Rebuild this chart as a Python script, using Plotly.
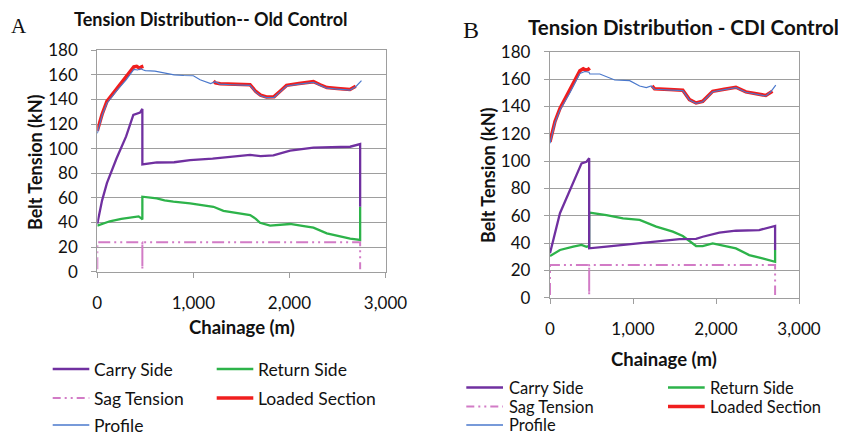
import plotly.graph_objects as go

# the page body adds an 8px margin, so the figure is 16px smaller and positions are offset
OFF = 8
W, H = 846 - 2 * OFF, 442 - 2 * OFF

# ---------------- Panel A data (Old Control) ----------------
carry_a_x = [0, 50, 100, 200, 300, 375, 445, 469, 469, 620, 800, 966, 1200, 1400, 1591, 1700, 1833, 2007, 2250, 2632, 2736, 2736]
carry_a_y = [39, 58, 72, 92, 110, 127.4, 129.3, 132.3, 87.3, 88.8, 89, 90.8, 92, 93.5, 94.9, 94, 94.5, 98.4, 100.8, 101.6, 103.8, 52.8]

return_a_x = [0, 130, 250, 375, 430, 458, 469, 469, 619, 700, 792, 966, 1100, 1209, 1313, 1450, 1591, 1650, 1694, 1799, 1900, 2007, 2150, 2250, 2389, 2528, 2632, 2736, 2736]
return_a_y = [37.4, 41, 43, 44.7, 45, 43.4, 42.5, 61, 59.7, 58, 56.9, 55.6, 54, 52.8, 49.5, 48, 46, 43, 39.8, 37.4, 38, 38.8, 37, 35.8, 31.2, 29, 26.8, 25.8, 52.8]

sag_a_x = [0, 0, 469, 469, 469, 2736, 2736]
sag_a_y = [2, 24, 24, 2, 24, 24, 2]

loaded_a_x = [0, 50, 100, 150, 200, 300, 380, 410, 440, 460, 480, None,
              1210, 1230, 1280, 1400, 1500, 1590, 1650, 1700, 1760, 1840, 1900, 1970, 2100, 2250, 2320, 2390, 2500, 2630, 2690]
loaded_a_y = [114.5, 128, 138.5, 143.5, 149, 158, 166.5, 167, 165.5, 166.5, 167, None,
              155, 153.5, 152.8, 152.5, 152.5, 152, 146.5, 143.5, 142, 142.3, 146.5, 151.5, 153, 154.5, 152, 149.7, 149, 148.2, 150.8]

profile_a_x = [0, 50, 100, 150, 200, 300, 380, 420, 450, 480, 500, 600, 700, 800, 900, 1000, 1070, 1120, 1180, 1226, 1278, 1400, 1500, 1590, 1650, 1700, 1760, 1840, 1900, 1970, 2100, 2250, 2320, 2390, 2500, 2630, 2690, 2750]
profile_a_y = [112.5, 127, 137, 142, 147, 156, 164.5, 164, 165, 164, 163.5, 163, 161.5, 160, 159.5, 159.3, 156, 154.5, 153, 154.5, 152.5, 152, 152, 151.5, 146, 143, 141.5, 141.8, 146, 151, 152.5, 154, 151.5, 149.2, 148.5, 147.7, 150.4, 155.3]

# ---------------- Panel B data (CDI Control) ----------------
carry_b_x = [0, 120, 380, 440, 472, 472, 680, 880, 1080, 1280, 1560, 1760, 1840, 2040, 2240, 2520, 2712, 2712]
carry_b_y = [32.5, 61.8, 98.3, 99.5, 102, 36.1, 37.3, 38.6, 39.8, 41, 42.9, 43, 44.6, 47.6, 49, 49.5, 52.5, 34.9]

return_b_x = [0, 120, 280, 380, 440, 472, 472, 680, 880, 1080, 1280, 1480, 1600, 1760, 1840, 1960, 2240, 2400, 2560, 2712, 2712]
return_b_y = [30.5, 34.9, 37.3, 38.6, 37.3, 37.8, 62.2, 60.5, 58.1, 56.9, 52, 48.3, 45.1, 37.8, 37.8, 39.8, 36.1, 31.2, 28.8, 26.3, 34.9]

sag_b_x = [0, 0, 472, 472, 472, 2712, 2712]
sag_b_y = [2, 24, 24, 2, 24, 24, 2]

loaded_b_x = [0, 60, 120, 240, 360, 400, 430, 460, 480, None,
              1230, 1260, 1440, 1600, 1680, 1760, 1840, 1960, 2100, 2240, 2360, 2600, 2680]
loaded_b_y = [114, 129, 138.5, 152, 166, 167.5, 166.5, 167, 168, None,
              155, 152.8, 152.3, 151.8, 145, 142.5, 143.7, 151, 152.5, 154, 150.6, 148, 151]

profile_b_x = [0, 60, 120, 240, 360, 420, 470, 480, 600, 700, 780, 960, 1080, 1160, 1220, 1260, 1440, 1600, 1680, 1760, 1840, 1960, 2100, 2240, 2360, 2600, 2660, 2720]
profile_b_y = [113, 128, 137.3, 150, 164, 165.5, 165, 163.7, 163.7, 161, 159.3, 158.8, 154.9, 153.7, 154.9, 152.5, 152, 151.5, 144.7, 142.2, 143.4, 150.7, 152.2, 153.7, 150.3, 147.6, 150.7, 155.6]

y_ticks = [0, 20, 40, 60, 80, 100, 120, 140, 160, 180]
x_ticks = [0, 1000, 2000, 3000]
x_tick_labels = ["0", "1,000", "2,000", "3,000"]
series_names = ["Carry Side", "Return Side", "Sag Tension", "Loaded Section", "Profile"]

# styles
PURPLE = "#7030A0"
GREEN = "#2DB34A"
PINK = "#D27BC6"
RED = "#F01E1E"
BLUE = "#4A78CC"
SAG_DASH = "12px,4px,2px,4px,2px,4px"
FONT = "Lato"

fig = go.Figure()


def add_panel(xa, ya, data):
    (cx, cy), (rx, ry), (sx, sy), (lx, ly), (px, py) = data
    fig.add_trace(go.Scatter(x=sx, y=sy, mode="lines", xaxis=xa, yaxis=ya,
                             line=dict(color=PINK, width=2, dash=SAG_DASH), showlegend=False))
    fig.add_trace(go.Scatter(x=rx, y=ry, mode="lines", xaxis=xa, yaxis=ya,
                             line=dict(color=GREEN, width=2.3), showlegend=False))
    fig.add_trace(go.Scatter(x=cx, y=cy, mode="lines", xaxis=xa, yaxis=ya,
                             line=dict(color=PURPLE, width=2.3), showlegend=False))
    fig.add_trace(go.Scatter(x=lx, y=ly, mode="lines", xaxis=xa, yaxis=ya, connectgaps=False,
                             line=dict(color=RED, width=3.5), showlegend=False))
    fig.add_trace(go.Scatter(x=px, y=py, mode="lines", xaxis=xa, yaxis=ya,
                             line=dict(color=BLUE, width=1.2), showlegend=False))


add_panel("x", "y", [(carry_a_x, carry_a_y), (return_a_x, return_a_y), (sag_a_x, sag_a_y),
                     (loaded_a_x, loaded_a_y), (profile_a_x, profile_a_y)])
add_panel("x2", "y2", [(carry_b_x, carry_b_y), (return_b_x, return_b_y), (sag_b_x, sag_b_y),
                       (loaded_b_x, loaded_b_y), (profile_b_x, profile_b_y)])


def px2x(p):
    return (p - OFF) / W


def px2y(p):
    return 1 - (p - OFF) / H


GRID = "#9E9E9E"
axis_common = dict(showgrid=True, gridcolor=GRID, gridwidth=1.3, showline=True, linecolor=GRID,
                   linewidth=1.3, mirror=True, ticks="outside", tickcolor=GRID, ticklen=5,
                   tickfont=dict(family=FONT, size=17, color="#111"), zeroline=False,
                   automargin=False)

xa = dict(axis_common, range=[0, 3000], tickvals=x_ticks, ticktext=x_tick_labels, showgrid=False,
          ticklabelstandoff=11)
ya = dict(axis_common, range=[0, 180], tickvals=y_ticks, ticklabelstandoff=10)

fig.update_layout(
    width=W, height=H, margin=dict(l=0, r=0, t=0, b=0),
    paper_bgcolor="white", plot_bgcolor="white",
    xaxis=dict(xa, domain=[px2x(97.3), px2x(385.5)], anchor="y"),
    yaxis=dict(ya, domain=[px2y(271.7), px2y(50.3)], anchor="x"),
    xaxis2=dict(xa, domain=[px2x(550), px2x(799)], anchor="y2"),
    yaxis2=dict(ya, domain=[px2y(297.7), px2y(51.7)], anchor="x2"),
    showlegend=False,
)

ann = []


def text(x, y, s, size, bold=False, angle=0, family=FONT, xanchor="center"):
    ann.append(dict(x=px2x(x), y=px2y(y), xref="paper", yref="paper", showarrow=False,
                    text=("<b>%s</b>" % s) if bold else s, textangle=angle,
                    font=dict(family=family, size=size, color="#111"),
                    xanchor=xanchor, yanchor="middle"))


# panel labels & titles
text(19, 26, "A", 21, family="Liberation Serif")
text(471, 30, "B", 24, family="Liberation Serif")
text(211, 19, "Tension Distribution-- Old Control", 18, bold=True)
text(683, 27, "Tension Distribution - CDI Control", 20.5, bold=True)
text(35, 162, "Belt Tension (kN)", 18, bold=True, angle=-90)
text(488, 175, "Belt Tension (kN)", 18, bold=True, angle=-90)
text(242, 327, "Chainage (m)", 18.5, bold=True)
text(664, 359, "Chainage (m)", 18.5, bold=True)

shapes = []
legend_styles = [dict(color=PURPLE, width=2.5), dict(color=GREEN, width=2.5),
                 dict(color=PINK, width=2, dash="8px,4px,2px,4px,2px,4px"),
                 dict(color=RED, width=3.5), dict(color=BLUE, width=1.3)]


def legend(col_x, rows_y, line_len, gap, size):
    slots = [(0, 0), (1, 0), (0, 1), (1, 1), (0, 2)]
    for name, style, (c, r) in zip(series_names, legend_styles, slots):
        x0 = col_x[c]
        y = rows_y[r]
        shapes.append(dict(type="line", xref="paper", yref="paper",
                           x0=px2x(x0), x1=px2x(x0 + line_len), y0=px2y(y), y1=px2y(y),
                           line=style))
        text(x0 + line_len + gap, y, name, size, xanchor="left")


legend([52.7, 216.7], [369, 398, 425], 36.6, 3, 17.5)
legend([466.3, 668], [387.5, 406.5, 425], 36.7, 3.5, 16.5)

fig.update_layout(annotations=ann, shapes=shapes)
fig.write_html("out.html")
